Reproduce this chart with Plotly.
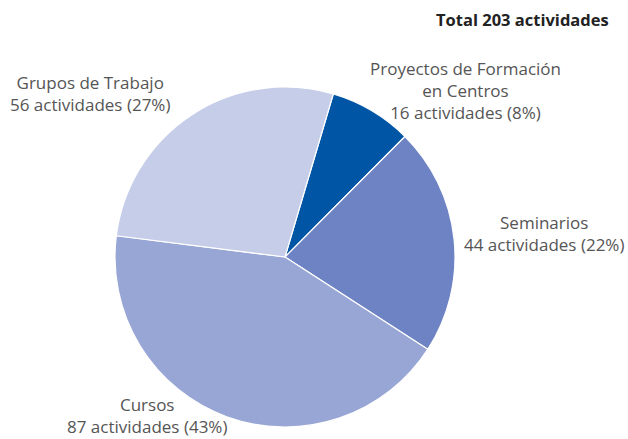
import plotly.graph_objects as go

# Activity types, counts and stated shares
categories = ["Proyectos de Formación<br>en Centros", "Seminarios", "Cursos", "Grupos de Trabajo"]
counts = [16, 44, 87, 56]
shares = [8, 22, 43, 27]
colors = ["#0055A4", "#6E83C3", "#98A6D5", "#C6CDE8"]
total = sum(counts)

# Label anchor points (paper coords) for each slice's caption
label_pos = [(0.742, 0.793), (0.866, 0.469), (0.234, 0.054), (0.143, 0.788)]

FONT = "Open Sans, Lato, sans-serif"
W, H = 628, 439
fig = go.Figure(go.Pie(
    labels=[c.replace("<br>", " ") for c in categories],
    values=counts,
    marker=dict(colors=colors, line=dict(color="white", width=1.2)),
    sort=False,
    direction="clockwise",
    rotation=16.5,
    textinfo="none",
    hoverinfo="label+value+percent",
    domain=dict(x=[115 / W, 455 / W], y=[(H - 427) / H, (H - 87) / H]),
    showlegend=False,
))

annotations = []
for cat, n, p, (x, y) in zip(categories, counts, shares, label_pos):
    annotations.append(dict(
        x=x, y=y, xref="paper", yref="paper",
        text=f"{cat}<br>{n} actividades ({p}%)",
        showarrow=False, align="center",
        xanchor="center", yanchor="middle",
        font=dict(family=FONT, size=17, color="#555555"),
    ))
annotations.append(dict(
    x=611 / W, y=1 - 20 / H, xref="paper", yref="paper",
    text=f"<b>Total {total} actividades</b>",
    showarrow=False, xanchor="right", yanchor="middle",
    font=dict(family=FONT, size=16.5, color="#222222"),
))

fig.update_layout(
    width=W, height=H,
    margin=dict(l=0, r=0, t=0, b=0),
    paper_bgcolor="white", plot_bgcolor="white",
    annotations=annotations,
)

fig.write_html("out.html")
